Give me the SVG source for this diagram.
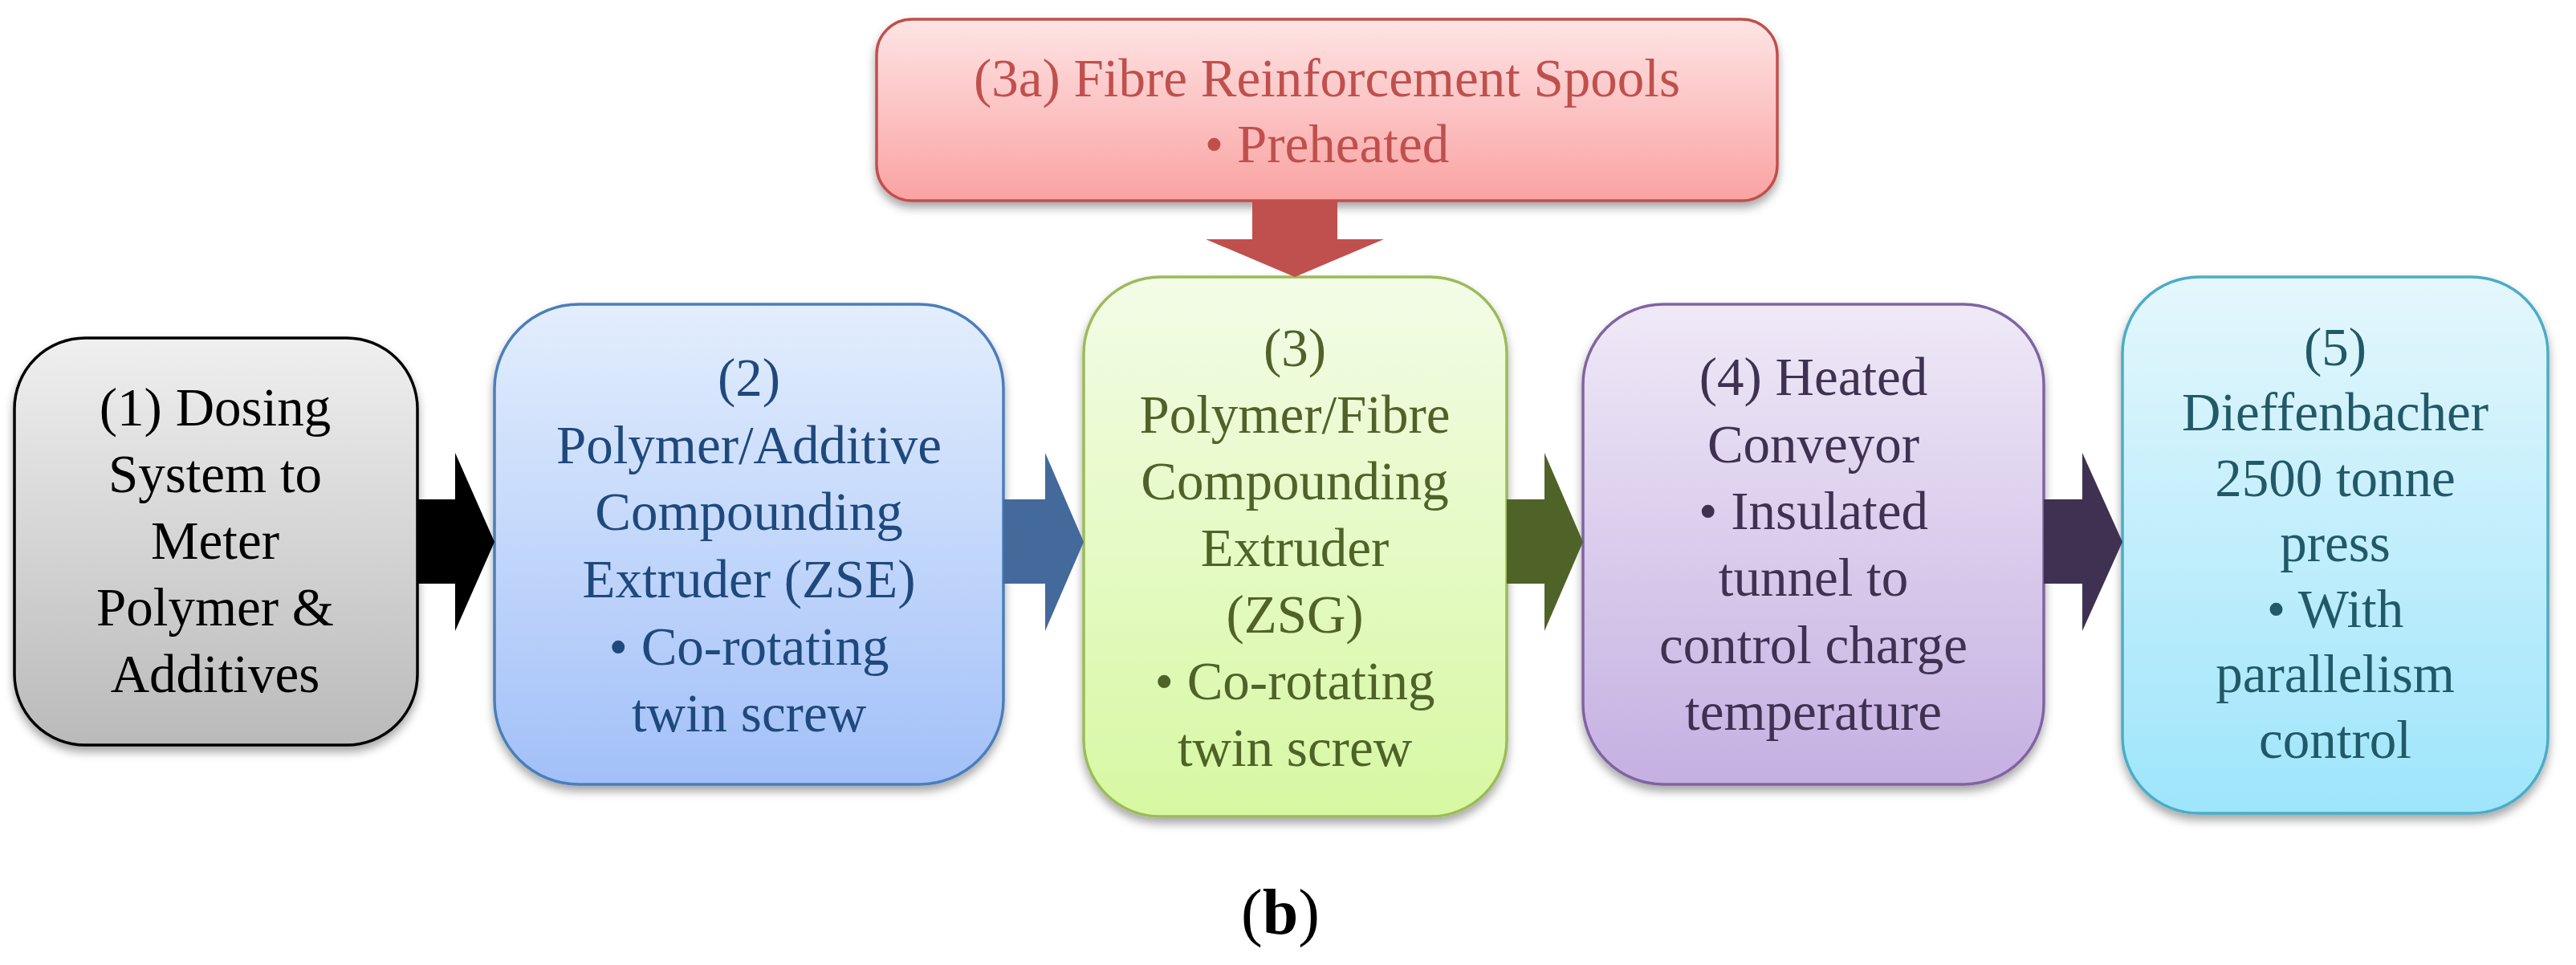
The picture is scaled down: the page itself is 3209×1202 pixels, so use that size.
<svg xmlns="http://www.w3.org/2000/svg" width="3209" height="1202" viewBox="0 0 3209 1202">
<defs>
<linearGradient id="gGray" x1="0" y1="0" x2="0" y2="1"><stop offset="0" stop-color="#efefef"/><stop offset="1" stop-color="#bababa"/></linearGradient>
<linearGradient id="gBlue" x1="0" y1="0" x2="0" y2="1"><stop offset="0" stop-color="#e3eefd"/><stop offset="1" stop-color="#a2c0f8"/></linearGradient>
<linearGradient id="gGreen" x1="0" y1="0" x2="0" y2="1"><stop offset="0" stop-color="#f3fce7"/><stop offset="1" stop-color="#d7f8a2"/></linearGradient>
<linearGradient id="gPurple" x1="0" y1="0" x2="0" y2="1"><stop offset="0" stop-color="#efe9f7"/><stop offset="1" stop-color="#c5b0e2"/></linearGradient>
<linearGradient id="gCyan" x1="0" y1="0" x2="0" y2="1"><stop offset="0" stop-color="#e4f7fc"/><stop offset="1" stop-color="#9ee5fb"/></linearGradient>
<linearGradient id="gRed" x1="0" y1="0" x2="0" y2="1"><stop offset="0" stop-color="#fee4e4"/><stop offset="1" stop-color="#faa2a2"/></linearGradient>
<filter id="shadow" x="-10%" y="-10%" width="120%" height="125%">
<feDropShadow dx="0" dy="7" stdDeviation="6" flood-color="#000" flood-opacity="0.35"/>
</filter>
</defs>
<style>
.box{stroke-width:3.5;filter:url(#shadow)}
text{font-family:"Liberation Serif","Times New Roman",serif;font-size:67px;text-anchor:middle}
.t1{fill:#000}
.t2{fill:#1f497d}
.t3{fill:#4f6228}
.t4{fill:#3f3151}
.t5{fill:#215968}
.t3a{fill:#c0504d}
</style>
<rect width="3209" height="1202" fill="#fff"/>

<g id="node1">
<rect class="box" x="18" y="421" width="502" height="507" rx="88" fill="url(#gGray)" stroke="#000"/>
<text class="t1" x="268" y="530">(1) Dosing</text>
<text class="t1" x="268" y="613">System to</text>
<text class="t1" x="268" y="696">Meter</text>
<text class="t1" x="268" y="779">Polymer &amp;</text>
<text class="t1" x="268" y="862">Additives</text>
</g>

<g id="node2">
<rect class="box" x="616" y="379" width="634" height="598" rx="105" fill="url(#gBlue)" stroke="#4a7ebb"/>
<text class="t2" x="933" y="493">(2)</text>
<text class="t2" x="933" y="577">Polymer/Additive</text>
<text class="t2" x="933" y="660">Compounding</text>
<text class="t2" x="933" y="744">Extruder (ZSE)</text>
<text class="t2" x="933" y="828">• Co-rotating</text>
<text class="t2" x="933" y="911">twin screw</text>
</g>

<g id="node3">
<rect class="box" x="1350" y="345" width="527" height="672" rx="95" fill="url(#gGreen)" stroke="#9bbb59"/>
<text class="t3" x="1613" y="456">(3)</text>
<text class="t3" x="1613" y="539">Polymer/Fibre</text>
<text class="t3" x="1613" y="622">Compounding</text>
<text class="t3" x="1613" y="705">Extruder</text>
<text class="t3" x="1613" y="788">(ZSG)</text>
<text class="t3" x="1613" y="871">• Co-rotating</text>
<text class="t3" x="1613" y="954">twin screw</text>
</g>

<g id="node4">
<rect class="box" x="1972" y="379" width="574" height="598" rx="100" fill="url(#gPurple)" stroke="#8064a2"/>
<text class="t4" x="2259" y="492">(4) Heated</text>
<text class="t4" x="2259" y="576">Conveyor</text>
<text class="t4" x="2259" y="659">• Insulated</text>
<text class="t4" x="2259" y="742">tunnel to</text>
<text class="t4" x="2259" y="826">control charge</text>
<text class="t4" x="2259" y="909">temperature</text>
</g>

<g id="node5">
<rect class="box" x="2644" y="345" width="530" height="668" rx="95" fill="url(#gCyan)" stroke="#4bacc6"/>
<text class="t5" x="2909" y="455">(5)</text>
<text class="t5" x="2909" y="536">Dieffenbacher</text>
<text class="t5" x="2909" y="618">2500 tonne</text>
<text class="t5" x="2909" y="699">press</text>
<text class="t5" x="2909" y="781">• With</text>
<text class="t5" x="2909" y="862">parallelism</text>
<text class="t5" x="2909" y="944">control</text>
</g>

<g id="node3a">
<rect class="box" x="1092" y="24" width="1122" height="226" rx="44" fill="url(#gRed)" stroke="#c0504d"/>
<text class="t3a" x="1653" y="120">(3a) Fibre Reinforcement Spools</text>
<text class="t3a" x="1653" y="202">• Preheated</text>
</g>

<g id="connectors">
<polygon points="520,622 567,622 567,564 616,675 567,786 567,727 520,727" fill="#000"/>
<polygon points="1250,622 1302,622 1302,564 1350,675 1302,786 1302,727 1250,727" fill="#44699b"/>
<polygon points="1877,622 1924,622 1924,564 1972,675 1924,786 1924,727 1877,727" fill="#4f6228"/>
<polygon points="2546,622 2594,622 2594,564 2644,675 2594,786 2594,727 2546,727" fill="#3f3151"/>
<polygon points="1560,250 1666,250 1666,298 1724,298 1613,345 1502,298 1560,298" fill="#c0504d"/>
</g>

<text x="1595" y="1163" style="font-size:80px" fill="#000">(<tspan font-weight="bold">b</tspan>)</text>
</svg>
